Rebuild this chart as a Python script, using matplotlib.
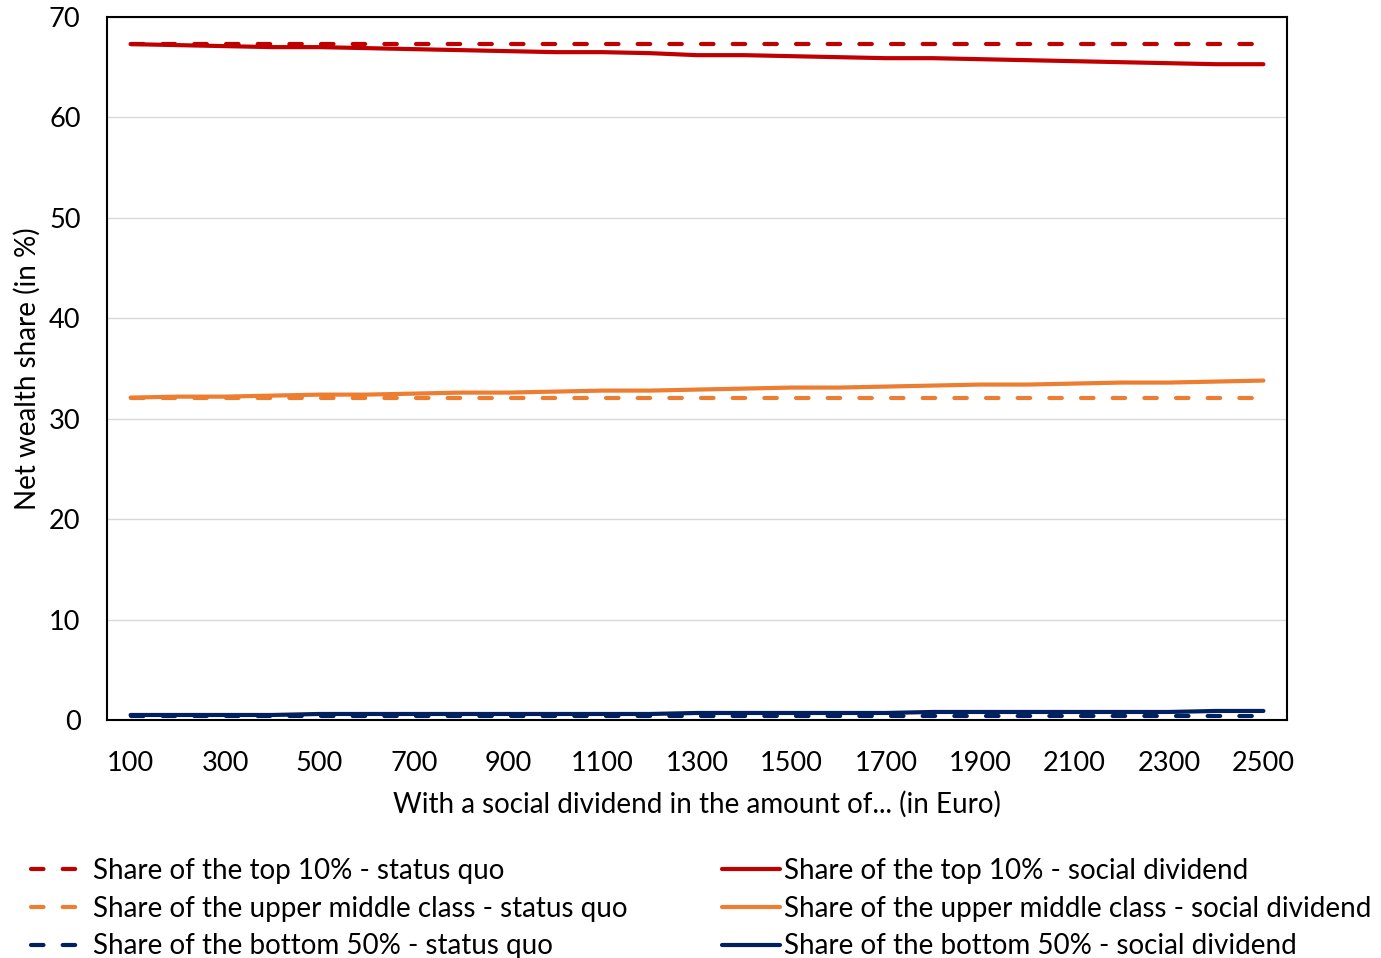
import matplotlib
matplotlib.use("Agg")
import matplotlib.pyplot as plt

plt.rcParams['font.family'] = ['Lato', 'DejaVu Sans']

# Social dividend amounts (Euro)
dividend = [100, 200, 300, 400, 500, 600, 700, 800, 900, 1000, 1100, 1200, 1300,
            1400, 1500, 1600, 1700, 1800, 1900, 2000, 2100, 2200, 2300, 2400, 2500]

# Net wealth shares (in %)
top10_status_quo = [67.3] * 25
top10_social = [67.3, 67.2, 67.1, 67.0, 67.0, 66.9, 66.8, 66.7, 66.6, 66.5, 66.5, 66.4, 66.2,
                66.2, 66.1, 66.0, 65.9, 65.9, 65.8, 65.7, 65.6, 65.5, 65.4, 65.3, 65.3]
umc_status_quo = [32.1] * 25
umc_social = [32.1, 32.2, 32.2, 32.3, 32.4, 32.4, 32.5, 32.6, 32.6, 32.7, 32.8, 32.8, 32.9,
              33.0, 33.1, 33.1, 33.2, 33.3, 33.4, 33.4, 33.5, 33.6, 33.6, 33.7, 33.8]
bottom50_status_quo = [0.4] * 25
bottom50_social = [0.5, 0.5, 0.5, 0.5, 0.6, 0.6, 0.6, 0.6, 0.6, 0.6, 0.6, 0.6, 0.7,
                   0.7, 0.7, 0.7, 0.7, 0.8, 0.8, 0.8, 0.8, 0.8, 0.8, 0.9, 0.9]

RED = '#C00000'
ORANGE = '#ED7D31'
NAVY = '#002060'

fig = plt.figure(figsize=(13.81, 9.58), dpi=100)
ax = fig.add_axes([107 / 1381, 1 - 720 / 958, (1287 - 107) / 1381, (720 - 17) / 958])

x = list(range(len(dividend)))
lw = 3.0
dash = (0, (3.0, 4.6))

h_sq = []
h_sd = []
for sq, sd, col, name in [
    (top10_status_quo, top10_social, RED, 'Share of the top 10%'),
    (umc_status_quo, umc_social, ORANGE, 'Share of the upper middle class'),
    (bottom50_status_quo, bottom50_social, NAVY, 'Share of the bottom 50%'),
]:
    l1, = ax.plot(x, sq, color=col, lw=lw, linestyle=dash, dash_capstyle='round',
                  label=f'{name} - status quo', zorder=3)
    l2, = ax.plot(x, sd, color=col, lw=lw, solid_capstyle='round',
                  label=f'{name} - social dividend', zorder=4)
    h_sq.append(l1)
    h_sd.append(l2)

ax.set_xlim(-0.5, len(dividend) - 0.5)
ax.set_ylim(0, 70)
ax.set_yticks(range(0, 71, 10))
ax.set_xticks(x[::2])
ax.set_xticklabels([str(d) for d in dividend[::2]])
ax.tick_params(axis='both', length=0, labelsize=19.5, colors='black')
ax.tick_params(axis='y', pad=19)
ax.tick_params(axis='x', pad=22.5)
ax.grid(axis='y', color='#D9D9D9', lw=1.0)
ax.set_axisbelow(True)
for s in ax.spines.values():
    s.set_color('black')
    s.set_linewidth(1.5)

ax.set_xlabel('With a social dividend in the amount of... (in Euro)', fontsize=20, labelpad=10.5)
ax.set_ylabel('Net wealth share (in %)', fontsize=20)
ax.yaxis.set_label_coords(-0.056, 0.5)

leg_kw = dict(frameon=False, fontsize=20, handlelength=2.1, handletextpad=0.12,
              labelspacing=0.42, borderaxespad=0, borderpad=0)
fig.legend(handles=h_sq, loc='upper left', bbox_to_anchor=(31 / 1381, 1 - 858 / 958), **leg_kw)
fig.legend(handles=h_sd, loc='upper left', bbox_to_anchor=(722 / 1381, 1 - 858 / 958), **leg_kw)

fig.savefig('out.png', dpi=100)
